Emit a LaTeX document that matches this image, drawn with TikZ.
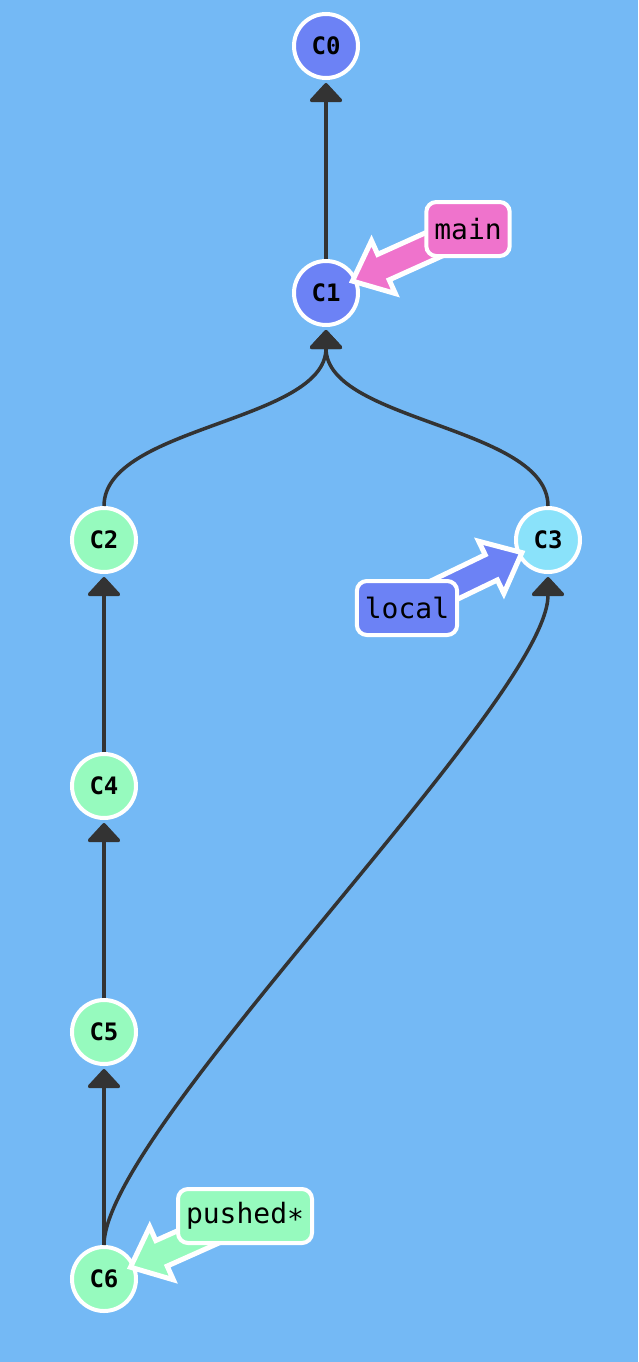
\documentclass[tikz,border=0pt]{standalone}
\usepackage{fontspec}
\setmonofont{DejaVu Sans Mono}
\usetikzlibrary{arrows.meta,calc}

\definecolor{gitbg}{HTML}{74B9F5}
\definecolor{gitblue}{HTML}{6C82F5}
\definecolor{gitmint}{HTML}{96FABE}
\definecolor{gitcyan}{HTML}{8AE2FA}
\definecolor{gitpink}{HTML}{EF73CC}
\definecolor{gitedge}{HTML}{333333}

\pgfdeclarelayer{front}
\pgfsetlayers{main,front}

\tikzset{
	commit/.style={circle, draw=white, line width=4pt, minimum size=64pt, inner sep=0pt,
		font=\ttfamily\bfseries\fontsize{24}{24}\selectfont},
	parent/.style={draw=gitedge, line width=3.5pt, shorten >=3pt,
		-{Triangle[length=20pt,width=36pt,round]}},
	branch/.style={rounded corners=10pt, draw=white, line width=4pt, minimum height=54pt,
		inner xsep=8pt, font=\ttfamily\fontsize{28}{28}\selectfont},
}

% fat arrow from a branch label (#1) to its commit (#2)
\newcommand{\reflink}[3]{%
	\coordinate (tip) at ($(#2)!29pt!(#1)$);
	\coordinate (hb) at ($(tip)!34pt!(#1)$);
	\filldraw[draw=white, line width=5pt, fill=#3, line join=miter]
		(tip) -- ($(hb)!29pt!90:(#1)$) -- ($(hb)!14pt!90:(#1)$)
		-- ($(#1)!14pt!-90:(hb)$) -- ($(#1)!14pt!90:(hb)$)
		-- ($(hb)!14pt!-90:(#1)$) -- ($(hb)!29pt!-90:(#1)$) -- cycle;
}

\begin{document}
\begin{tikzpicture}[x=1pt,y=-1pt]
	% Background
	\fill[gitbg] (0,0) rectangle (638,1362);
	
	% Commits
	\node[commit, fill=gitblue] (C0) at (326,46) {C0};
	\node[commit, fill=gitblue] (C1) at (326,293) {C1};
	\node[commit, fill=gitmint] (C2) at (104,540) {C2};
	\node[commit, fill=gitcyan] (C3) at (548,540) {C3};
	\node[commit, fill=gitmint] (C4) at (104,786) {C4};
	\node[commit, fill=gitmint] (C5) at (104,1032) {C5};
	\node[commit, fill=gitmint] (C6) at (104,1279) {C6};
	
	% Parents
	\draw[parent] (C1) -- (C0);
	\draw[parent] (C2.north) .. controls +(0,-80) and +(0,95) .. (C1.south);
	\draw[parent] (C3.north) .. controls +(0,-80) and +(0,95) .. (C1.south);
	\draw[parent] (C4) -- (C2);
	\draw[parent] (C5) -- (C4);
	\draw[parent] (C6) -- (C5);
	\draw[parent] (C6.north) .. controls +(0,-115) and +(0,126) .. (C3.south);
	
	% Branches
	\begin{pgfonlayer}{front}
		\node[branch, fill=gitpink] (main) at (468,229) {main};
		\node[branch, fill=gitblue] (local) at (407,608) {local};
		\node[branch, fill=gitmint] (pushed) at (245,1216) {pushed∗};
	\end{pgfonlayer}
	\reflink{main}{C1}{gitpink}
	\reflink{local}{C3}{gitblue}
	\reflink{pushed}{C6}{gitmint}
\end{tikzpicture}
\end{document}
